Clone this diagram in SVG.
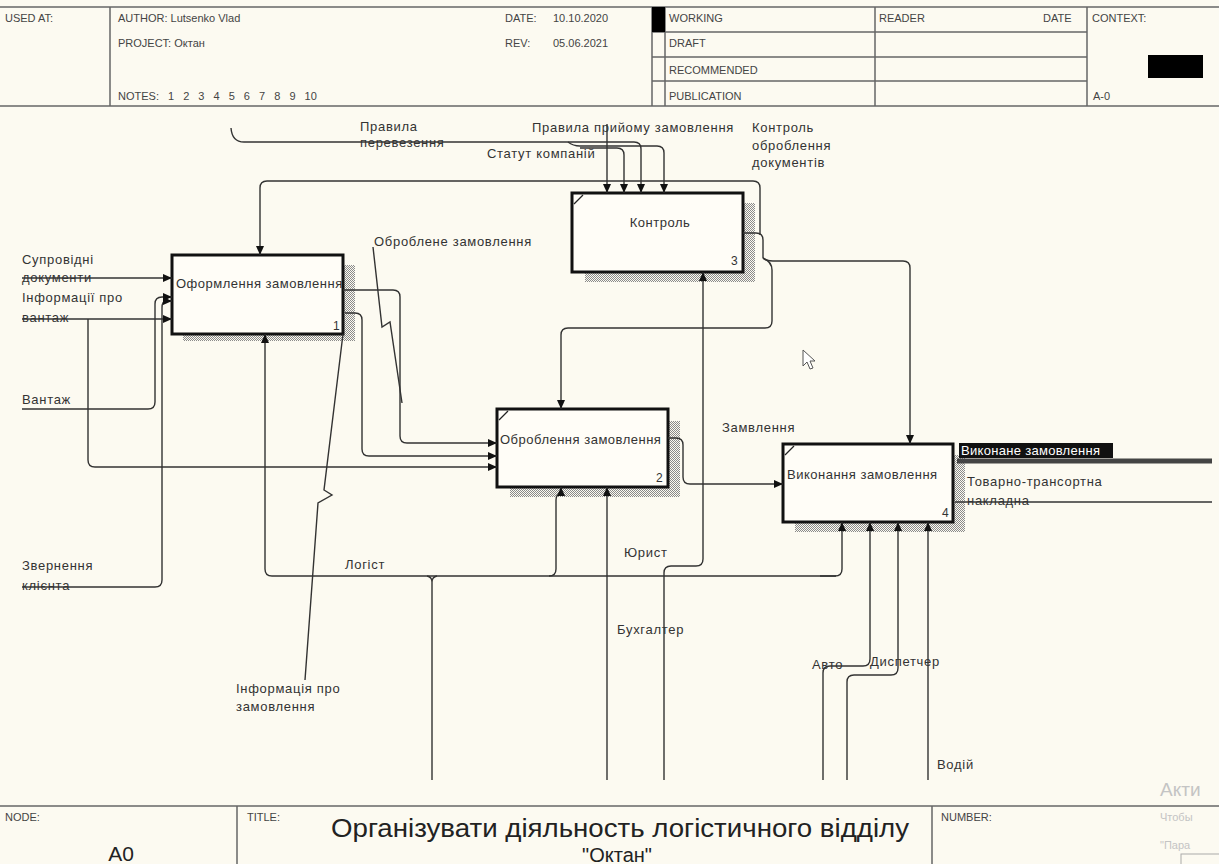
<svg xmlns="http://www.w3.org/2000/svg" width="1219" height="864" viewBox="0 0 1219 864">
<style>
.bg{fill:#fcfaf1}
.frame{fill:none;stroke:#666;stroke-width:1.5}
.hdr{font-family:"Liberation Sans",Arial,sans-serif;font-size:11px;fill:#444}
.box{fill:#fffdf7;stroke:#111;stroke-width:3}
.shadow{fill:url(#hatch)}
.corner{fill:none;stroke:#222;stroke-width:1.3}
.btxt{font-family:"Liberation Sans",Arial,sans-serif;font-size:13px;fill:#333;letter-spacing:0.5px}
.num{font-family:"Liberation Sans",Arial,sans-serif;font-size:12px;fill:#333}
.lbl{font-family:"Liberation Sans",Arial,sans-serif;font-size:13px;fill:#333;letter-spacing:0.7px}
.conn{fill:none;stroke:#333;stroke-width:1.4}
.arr{marker-end:url(#ah)}
.wm{font-family:"Liberation Sans",Arial,sans-serif;fill:#c4c4c4}
</style>
<defs>
<pattern id="hatch" patternUnits="userSpaceOnUse" width="2" height="2">
<rect x="0" y="0" width="1" height="1" fill="#8a8a8a"/>
<rect x="1" y="1" width="1" height="1" fill="#8a8a8a"/>
</pattern>
<marker id="ah" markerUnits="userSpaceOnUse" markerWidth="9" markerHeight="8" refX="9" refY="4" orient="auto">
<path d="M0,0 L9,4 L0,8 z" fill="#111"/>
</marker>
</defs>
<rect class="bg" x="0" y="0" width="1219" height="864"/>

<g id="header">
<line class="frame" x1="0" y1="7" x2="1219" y2="7"/>
<line class="frame" x1="0" y1="106" x2="1219" y2="106"/>
<line class="frame" x1="110" y1="7" x2="110" y2="106"/>
<line class="frame" x1="652" y1="7" x2="652" y2="106"/>
<line class="frame" x1="665" y1="7" x2="665" y2="106"/>
<line class="frame" x1="875" y1="7" x2="875" y2="106"/>
<line class="frame" x1="1087" y1="7" x2="1087" y2="106"/>
<line class="frame" x1="652" y1="32" x2="1087" y2="32"/>
<line class="frame" x1="652" y1="57" x2="1087" y2="57"/>
<line class="frame" x1="652" y1="81" x2="1087" y2="81"/>
<rect x="652" y="7" width="13" height="25" fill="#000"/>
<rect x="1148" y="55" width="55" height="23" fill="#000"/>
<text class="hdr" x="5" y="22">USED AT:</text>
<text class="hdr" x="118" y="22">AUTHOR:  Lutsenko Vlad</text>
<text class="hdr" x="118" y="47">PROJECT:  Октан</text>
<text class="hdr" x="118" y="100" word-spacing="6">NOTES:  1 2 3 4 5 6 7 8 9 10</text>
<text class="hdr" x="505" y="22">DATE:</text>
<text class="hdr" x="553" y="22">10.10.2020</text>
<text class="hdr" x="505" y="47">REV:</text>
<text class="hdr" x="553" y="47">05.06.2021</text>
<text class="hdr" x="669" y="22">WORKING</text>
<text class="hdr" x="669" y="47">DRAFT</text>
<text class="hdr" x="669" y="74">RECOMMENDED</text>
<text class="hdr" x="669" y="100">PUBLICATION</text>
<text class="hdr" x="879" y="22">READER</text>
<text class="hdr" x="1043" y="22">DATE</text>
<text class="hdr" x="1092" y="22">CONTEXT:</text>
<text class="hdr" x="1093" y="100">A-0</text>
</g>

<g id="footer">
<line class="frame" x1="0" y1="806" x2="1219" y2="806"/>
<line class="frame" x1="237" y1="806" x2="237" y2="864"/>
<line class="frame" x1="932" y1="806" x2="932" y2="864"/>
<text class="hdr" x="5" y="821" font-size="10">NODE:</text>
<text class="hdr" x="247" y="821" font-size="10">TITLE:</text>
<text class="hdr" x="941" y="821" font-size="10">NUMBER:</text>
<text x="121" y="861" text-anchor="middle" font-family="Liberation Sans, Arial, sans-serif" font-size="21" fill="#222">A0</text>
<text x="620" y="837" text-anchor="middle" font-family="Liberation Sans, Arial, sans-serif" font-size="26" fill="#222" textLength="578" lengthAdjust="spacingAndGlyphs">Організувати діяльность логістичного відділу</text>
<text x="617" y="862" text-anchor="middle" font-family="Liberation Sans, Arial, sans-serif" font-size="20" fill="#222">"Октан"</text>
<text class="wm" x="1160" y="796" font-size="19">Акти</text>
<text class="wm" x="1160" y="821" font-size="11">Чтобы</text>
<text class="wm" x="1160" y="849" font-size="11">"Пара</text>
<rect x="1181" y="854" width="40" height="14" fill="none" stroke="#aaa"/>
</g>

<g id="node1">
<rect class="shadow" x="343" y="265" width="12" height="76"/>
<rect class="shadow" x="183" y="334" width="172" height="7"/>
<rect class="box" x="172" y="255" width="171" height="79"/>
<text class="btxt" x="176" y="288">Оформлення замовлення</text>
<text class="num" x="333" y="330">1</text>
</g>

<g id="node3">
<rect class="shadow" x="743" y="203" width="12" height="79"/>
<rect class="shadow" x="585" y="272" width="170" height="10"/>
<rect class="box" x="572" y="193" width="171" height="79"/>
<path class="corner" d="M574,204 L583,195"/>
<text class="btxt" x="660" y="227" text-anchor="middle">Контроль</text>
<text class="num" x="731" y="265">3</text>
</g>

<g id="node2">
<rect class="shadow" x="668" y="421" width="12" height="76"/>
<rect class="shadow" x="510" y="487" width="170" height="10"/>
<rect class="box" x="497" y="409" width="171" height="78"/>
<path class="corner" d="M499,420 L508,411"/>
<text class="btxt" x="500" y="444">Оброблення замовлення</text>
<text class="num" x="656" y="482">2</text>
</g>

<g id="node4">
<rect class="shadow" x="953" y="455" width="12" height="77"/>
<rect class="shadow" x="795" y="522" width="170" height="10"/>
<rect class="box" x="783" y="444" width="170" height="78"/>
<path class="corner" d="M785,455 L794,446"/>
<text class="btxt" x="787" y="479">Виконання замовлення</text>
<text class="num" x="942" y="517">4</text>
</g>

<g id="connectors">
<path class="conn arr" d="M231,128 Q232,142 244,142 H634 Q641,142 641,149 V193"/>
<path class="conn arr" d="M568,142 Q573,146 580,146 H657 Q664,146 664,153 V193"/>
<path class="conn arr" d="M580,148 H617 Q624,148 624,155 V193"/>
<path class="conn arr" d="M607,124 V193"/>
<path class="conn" d="M743,233 H756 Q763,233 763,240 V258"/>
<path class="conn arr" d="M760,235 V188 Q760,181 753,181 H267 Q260,181 260,188 V255"/>
<path class="conn arr" d="M763,258 Q766,261 773,261 H903 Q910,261 910,268 V444"/>
<path class="conn arr" d="M763,258 Q772,262 772,270 V321 Q772,328 765,328 H568 Q561,328 561,335 V409"/>
<path class="conn arr" d="M22,278 H172"/>
<path class="conn arr" d="M22,319 H172"/>
<path class="conn arr" d="M22,409 H148 Q155,409 155,402 V304 Q155,297 162,297 H172"/>
<path class="conn arr" d="M22,587 H155 Q162,587 162,580 V308 Q162,301 166,301 H172"/>
<path class="conn arr" d="M88,319 V460 Q88,467 95,467 H497"/>
<path class="conn arr" d="M343,290 H393 Q400,290 400,297 V436 Q400,443 407,443 H497"/>
<path class="conn arr" d="M345,313 H355 Q362,313 362,320 V449 Q362,456 369,456 H497"/>
<path class="conn arr" d="M668,438 H676 Q683,438 683,445 V477 Q683,484 690,484 H783"/>
<line x1="957" y1="461" x2="1212" y2="461" stroke="#444" stroke-width="5"/>
<path class="conn" d="M955,502 H1212"/>
<path class="conn" d="M432,780 V582 Q432,577 427,576 M437,576 Q432,577 432,582"/>
<path class="conn arr" d="M836,576 H272 Q265,576 265,569 V334"/>
<path class="conn arr" d="M549,576 Q556,576 556,569 V500 Q556,494 561,494 V487"/>
<path class="conn arr" d="M820,576 H835 Q842,576 842,569 V522"/>
<path class="conn arr" d="M607,780 V487"/>
<path class="conn arr" d="M664,780 V573 Q664,566 671,566 H696 Q703,566 703,559 V272"/>
<path class="conn arr" d="M823,780 V673 Q823,666 830,666 H863 Q870,666 870,659 V522"/>
<path class="conn arr" d="M847,780 V682 Q847,675 854,675 H891 Q898,675 898,668 V522"/>
<path class="conn arr" d="M928,780 V522"/>
<path class="conn" d="M373,247 L382,327 L390,322 L402,403"/>
<path class="conn" d="M343,334 L324,490 L332,495 L318,503 L305,680"/>
</g>

<g id="labels">
<text class="lbl" x="360" y="131">Правила</text>
<text class="lbl" x="360" y="147">перевезення</text>
<text class="lbl" x="532" y="132">Правила прийому замовлення</text>
<text class="lbl" x="487" y="158">Статут компаній</text>
<text class="lbl" x="752" y="132">Контроль</text>
<text class="lbl" x="752" y="150">оброблення</text>
<text class="lbl" x="752" y="167">документів</text>
<text class="lbl" x="374" y="246">Оброблене замовлення</text>
<text class="lbl" x="22" y="264">Супровідні</text>
<text class="lbl" x="22" y="282">документи</text>
<text class="lbl" x="22" y="302">Інформації про</text>
<text class="lbl" x="22" y="322">вантаж</text>
<text class="lbl" x="22" y="404">Вантаж</text>
<text class="lbl" x="22" y="570">Звернення</text>
<text class="lbl" x="22" y="590">клієнта</text>
<text class="lbl" x="345" y="569">Логіст</text>
<text class="lbl" x="624" y="557">Юрист</text>
<text class="lbl" x="617" y="634">Бухгалтер</text>
<text class="lbl" x="722" y="432">Замвлення</text>
<text class="lbl" x="812" y="669">Авто</text>
<text class="lbl" x="870" y="666">Диспетчер</text>
<text class="lbl" x="937" y="769">Водій</text>
<text class="lbl" x="236" y="693">Інформація про</text>
<text class="lbl" x="236" y="711">замовлення</text>
<rect x="959" y="443" width="154" height="15" fill="#111"/>
<text class="lbl" x="961" y="455" style="fill:#fff;letter-spacing:0.3px">Виконане замовлення</text>
<text class="lbl" x="967" y="486">Товарно-трансортна</text>
<text class="lbl" x="967" y="505">накладна</text>
</g>

<g id="cursor">
<path d="M803,350 L803,366 L807,362 L810,369 L813,368 L810,361 L815,361 Z" fill="#fff" stroke="#555" stroke-width="1"/>
</g>
</svg>
